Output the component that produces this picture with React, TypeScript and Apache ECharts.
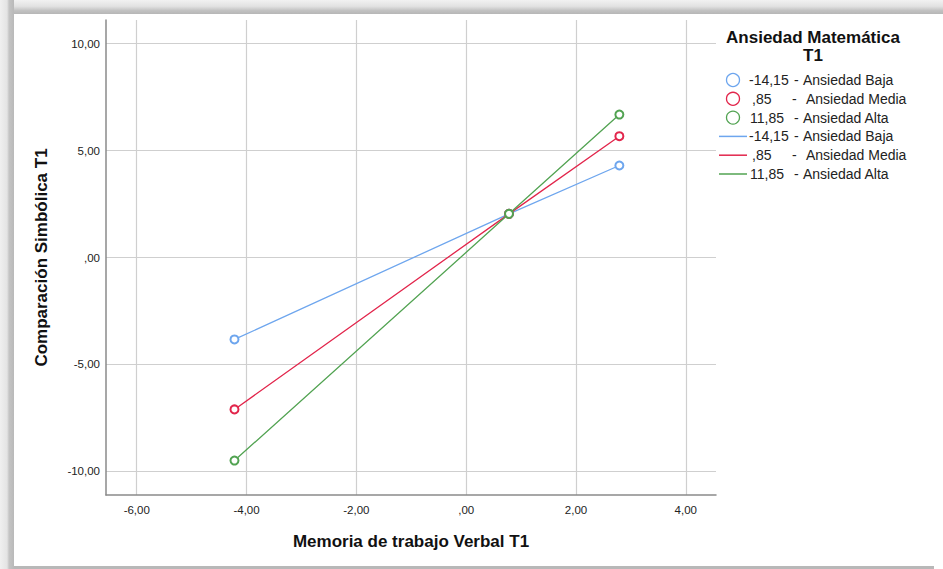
import React, { useEffect, useRef } from "react";
import * as echarts from "echarts";

// ---- data ----
const xPoints = [-4.22, 0.78, 2.79];
const groupValues = ["-14,15", ",85", "11,85"];
const groupLabels = ["Ansiedad Baja", "Ansiedad Media", "Ansiedad Alta"];
const bajaValues = [-3.83, 2.04, 4.3];
const mediaValues = [-7.1, 2.04, 5.67];
const altaValues = [-9.49, 2.04, 6.68];
const xTicks = [-6, -4, -2, 0, 2, 4];
const yTicks = [-10, -5, 0, 5, 10];
const legendTitleLines = ["Ansiedad Matemática", "T1"];
const xTitle = "Memoria de trabajo Verbal T1";
const yTitle = "Comparación Simbólica T1";

const colors = ["#6ea6ee", "#e2264c", "#52a352"];
const FONT = "'Liberation Sans', Arial, sans-serif";

function fmt(v: number): string {
  const s = Math.abs(v).toFixed(2).replace(".", ",");
  const t = s.startsWith("0,") ? s.slice(1) : s;
  return (v < 0 ? "-" : "") + t;
}

export default function App() {
  const ref = useRef<HTMLDivElement>(null);

  useEffect(() => {
    if (!ref.current) return;
    const chart = echarts.init(ref.current, undefined, { renderer: "svg" });
    const allValues = [bajaValues, mediaValues, altaValues];

    const series = allValues.map((vals, i) => ({
      type: "line",
      name: groupValues[i] + " - " + groupLabels[i],
      data: xPoints.map((x, j) => [x, vals[j]]),
      showSymbol: true,
      symbol: "emptyCircle",
      symbolSize: 8,
      lineStyle: { color: colors[i], width: 1.3 },
      itemStyle: { color: colors[i], borderColor: colors[i], borderWidth: 1.3 },
      z: 3 + i,
    }));

    const valueX = [749, 752, 750];
    const dashX = [794, 792, 794];
    const labelX = [803, 806, 803];
    const legendEls: any[] = [];
    legendTitleLines.forEach((t, k) => {
      legendEls.push({
        type: "text",
        x: 813,
        y: 37 + k * 18,
        style: {
          text: t,
          align: "center",
          verticalAlign: "middle",
          font: `bold 17px ${FONT}`,
          fill: "#111",
        },
      });
    });
    for (let r = 0; r < 6; r++) {
      const i = r % 3;
      const y = 80 + r * 18.8;
      if (r < 3) {
        legendEls.push({
          type: "circle",
          shape: { cx: 733, cy: y, r: 6.5 },
          style: { fill: "none", stroke: colors[i], lineWidth: 1.3 },
        });
      } else {
        legendEls.push({
          type: "line",
          shape: { x1: 719, y1: y, x2: 747, y2: y },
          style: { stroke: colors[i], lineWidth: 1.5 },
        });
      }
      const parts = [
        [valueX[i], groupValues[i]],
        [dashX[i], "-"],
        [labelX[i], groupLabels[i]],
      ];
      parts.forEach(([px, t]) => {
        legendEls.push({
          type: "text",
          x: px as number,
          y: y,
          style: {
            text: t as string,
            align: "left",
            verticalAlign: "middle",
            font: `14px ${FONT}`,
            fill: "#222",
          },
        });
      });
    }

    chart.setOption({
      animation: false,
      grid: { left: 106, right: 227, top: 20, bottom: 74, containLabel: false },
      xAxis: {
        type: "value",
        min: -6.56,
        max: 4.55,
        name: xTitle,
        nameLocation: "middle",
        nameGap: 38,
        nameTextStyle: { fontFamily: FONT, fontWeight: "bold", fontSize: 17, color: "#111" },
        axisLine: { show: true, onZero: false, lineStyle: { color: "#8a8a8a", width: 1.5 } },
        axisTick: { show: false, customValues: xTicks },
        axisLabel: {
          customValues: xTicks,
          formatter: (v: number) => fmt(v),
          margin: 9,
          fontFamily: FONT,
          fontSize: 11.5,
          color: "#222",
        },
        splitLine: { show: true, lineStyle: { color: "#cfcfcf", width: 1.2 } },
      },
      yAxis: {
        type: "value",
        min: -11.1,
        max: 11.1,
        name: yTitle,
        nameLocation: "middle",
        nameGap: 56,
        nameTextStyle: { fontFamily: FONT, fontWeight: "bold", fontSize: 17, color: "#111" },
        axisLine: { show: true, onZero: false, lineStyle: { color: "#8a8a8a", width: 1.5 } },
        axisTick: { show: false, customValues: yTicks },
        axisLabel: {
          customValues: yTicks,
          formatter: (v: number) => fmt(v),
          margin: 6,
          fontFamily: FONT,
          fontSize: 11.5,
          color: "#222",
        },
        splitLine: { show: true, lineStyle: { color: "#cfcfcf", width: 1.2 } },
      },
      series,
      graphic: legendEls,
    });

    return () => chart.dispose();
  }, []);

  return (
    <div style={{ position: "fixed", left: 0, top: 0, width: 943, height: 569, background: "#ffffff", overflow: "hidden" }}>
      <div
        style={{
          position: "absolute",
          left: 0,
          top: 0,
          width: 943,
          height: 14,
          background: "linear-gradient(to bottom, #f2f2f2 0%, #e2e2e2 45%, #c2c2c2 75%, #b6b6b6 100%)",
        }}
      />
      <div
        style={{
          position: "absolute",
          left: 0,
          top: 0,
          width: 14,
          height: 569,
          background: "linear-gradient(to right, #f0f0f0 0%, #e4e4e4 50%, #c4c4c4 65%, #b9b9b9 100%)",
        }}
      />
      <div style={{ position: "absolute", left: 14, top: 566, width: 920, height: 3, background: "#b8b8b8" }} />
      <div ref={ref} style={{ position: "absolute", left: 0, top: 0, width: 943, height: 569 }} />
    </div>
  );
}
